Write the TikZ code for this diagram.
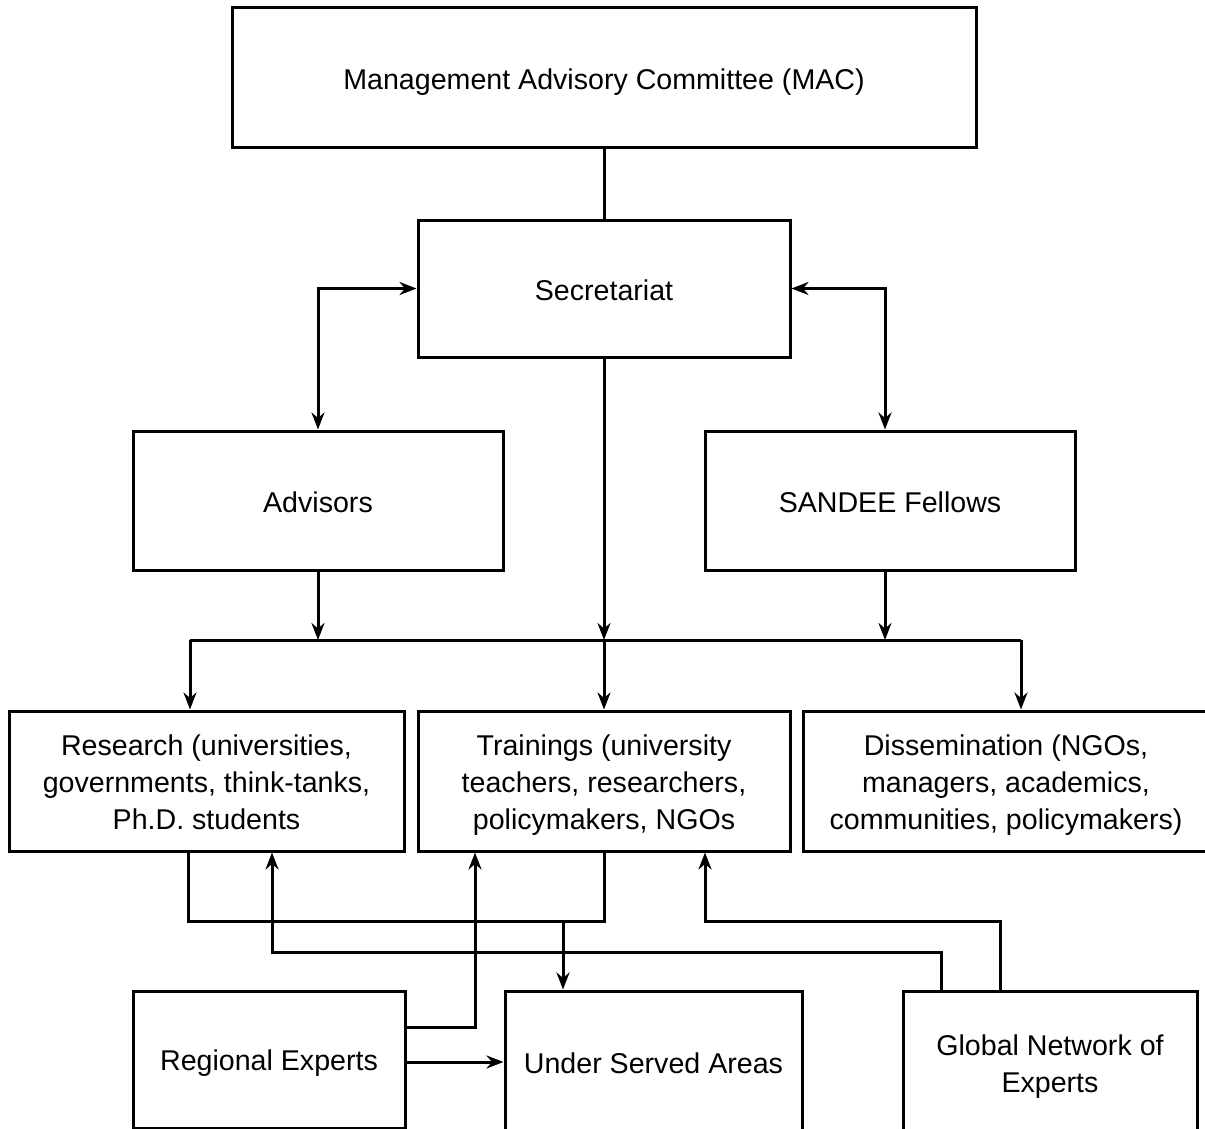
\documentclass[tikz,border=0pt]{standalone}
\usepackage{fontspec}
\setmainfont{Liberation Sans}
\usetikzlibrary{arrows.meta}
\newcommand\boxstrut{\rule[-5pt]{0pt}{33pt}}
\begin{document}
\begin{tikzpicture}[x=1pt,y=-1pt,
  box/.style={draw,line width=3pt,rectangle,inner sep=0pt,align=center,
    font=\fontsize{28.6}{37}\selectfont,
    execute at begin node=\boxstrut,execute at end node=\boxstrut},
  conn/.style={line width=3pt},
  arr/.style={conn,-{Stealth[length=17pt,width=13pt]}},
  darr/.style={conn,{Stealth[length=17pt,width=13pt]}-{Stealth[length=17pt,width=13pt]}}]
\useasboundingbox (0,0) rectangle (1205,1129);
\clip (0,0) rectangle (1205,1129);
\node[box,minimum width=744pt,minimum height=140pt] (mac) at (604,78) {Management Advisory Committee (MAC)};
\node[box,minimum width=372pt,minimum height=137pt] (sec) at (604,288.5) {Secretariat};
\node[box,minimum width=370pt,minimum height=139pt] (adv) at (318,500.5) {Advisors};
\node[box,minimum width=370pt,minimum height=139pt] (fel) at (890,500.5) {SANDEE Fellows};
\node[box,minimum width=395pt,minimum height=140pt] (res) at (206.5,781) {\boxstrut Research (universities,\\governments, think-tanks,\\Ph.D. students};
\node[box,minimum width=372pt,minimum height=140pt] (tra) at (604,781) {\boxstrut Trainings (university\\teachers, researchers,\\policymakers, NGOs};
\node[box,minimum width=406pt,minimum height=140pt] (dis) at (1006,781) {\boxstrut Dissemination (NGOs,\\managers, academics,\\communities, policymakers)};
\node[box,minimum width=272pt,minimum height=137pt] (reg) at (269,1059.5) {Regional Experts};
\node[box,minimum width=297pt,minimum height=142pt] (und) at (653.5,1062) {Under Served Areas};
\node[box,minimum width=294pt,minimum height=143pt] (glo) at (1050,1062.5) {\boxstrut Global Network of\\Experts};
% top
\draw[conn] (mac.south) -- (sec.north);
\draw[darr] (adv.north) |- (sec.west);
\draw[darr] (sec.east) -| ([xshift=-5pt]fel.north);
% bus
\coordinate (bl) at (190,640);
\coordinate (bm) at (604,640);
\coordinate (br) at (1021,640);
\draw[arr] (sec.south) -- (bm);
\draw[arr] (adv.south) -- (adv.south |- bm);
\draw[arr] ([xshift=-5pt]fel.south) -- ([xshift=-5pt]fel.south |- bm);
\draw[conn] (bl) -- (br);
\draw[arr] (bl) -- (bl |- res.north);
\draw[arr] (bm) -- (bm |- tra.north);
\draw[arr] (br) -- (br |- dis.north);
% lower connectors
\coordinate (r2) at (188,921);
\coordinate (t2) at (604,921);
\coordinate (u1) at (563,921);
\draw[conn] (r2 |- res.south) -- (r2) -- (t2) -- (t2 |- tra.south);
\draw[arr] (u1) -- (u1 |- und.north);
\coordinate (g1) at (941,952);
\coordinate (g2) at (272,952);
\draw[arr] (g1 |- glo.north) -- (g1) -- (g2) -- (g2 |- res.south);
\coordinate (h1) at (1000,921);
\coordinate (h2) at (705,921);
\draw[arr] (h1 |- glo.north) -- (h1) -- (h2) -- (h2 |- tra.south);
\coordinate (e1) at (475,1027);
\draw[arr] (reg.east |- e1) -- (e1) -- (e1 |- tra.south);
\draw[arr] (reg.east |- und.west) -- (und.west);
\end{tikzpicture}
\end{document}
